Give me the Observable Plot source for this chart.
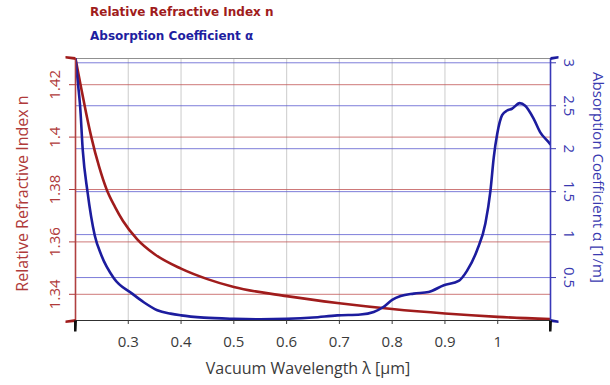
<!DOCTYPE html>
<html><head><meta charset="utf-8">
<script src="https://cdn.jsdelivr.net/npm/d3@7"></script>
<script src="https://cdn.jsdelivr.net/npm/@observablehq/plot@0.6"></script>
<style>
body{margin:0;background:#fff;}
#legend{padding-left:90px;height:48px;font-family:"DejaVu Sans",sans-serif;font-weight:bold;font-size:12px;}
#legend div{height:24px;line-height:24px;}
</style></head><body>
<div id="legend"><div style="color:#a01c1c">Relative Refractive Index n</div><div style="color:#1e1ea0">Absorption Coefficient α</div></div>
<div id="chart"></div>
<script>
// Refractive index curve
const lambdaN = [0.200,0.210,0.220,0.230,0.245,0.259,0.275,0.290,0.317,0.350,0.400,0.450,0.500,0.600,0.700,0.800,0.900,1.000,1.100];
const nValues = [1.4300,1.4195,1.4093,1.4000,1.3885,1.3800,1.3733,1.3680,1.3610,1.3553,1.3498,1.3458,1.3428,1.3393,1.3366,1.3344,1.3327,1.3314,1.3305];
// Absorption coefficient curve
const lambdaA = [0.200,0.205,0.2087,0.2138,0.2227,0.2365,0.249,0.273,0.308,0.330,0.355,0.380,0.400,0.443,0.500,0.550,0.600,0.650,0.696,0.740,0.765,0.784,0.800,0.816,0.841,0.869,0.898,0.926,0.942,0.961,0.9766,0.9862,0.9925,0.999,1.0083,1.0178,1.027,1.0416,1.052,1.068,1.0806,1.0964,1.100];
const alphaValues = [3.05,2.74,2.50,1.98,1.50,0.99,0.76,0.49,0.31,0.21,0.12,0.08,0.06,0.034,0.02,0.015,0.02,0.035,0.06,0.07,0.10,0.16,0.24,0.285,0.313,0.332,0.41,0.46,0.58,0.82,1.13,1.51,1.90,2.17,2.39,2.445,2.465,2.53,2.50,2.35,2.19,2.076,2.05];
const xTicks = [0.3,0.4,0.5,0.6,0.7,0.8,0.9,1.0];
const nTicks = [1.34,1.36,1.38,1.40,1.42];
const aTicks = [0.5,1,1.5,2,2.5,3];
const xDomain = [0.2,1.1];
const nDomain = [1.33,1.43];
const aDomain = [0,3.05];

const toN = a => nDomain[0] + (a - aDomain[0]) / (aDomain[1] - aDomain[0]) * (nDomain[1] - nDomain[0]);
const toA = n => aDomain[0] + (n - nDomain[0]) / (nDomain[1] - nDomain[0]) * (aDomain[1] - aDomain[0]);

const nData = lambdaN.map((l, i) => ({l, v: nValues[i]}));
const aData = lambdaA.map((l, i) => ({l, v: toN(alphaValues[i])}));

const RED = "#a01c1c", BLUE = "#1c1c9e";
const fmt = d3.format("~g");

function capSym(pts){ return {draw(ctx){ ctx.moveTo(pts[0][0],pts[0][1]); for(let i=1;i<pts.length;i++) ctx.lineTo(pts[i][0],pts[i][1]); ctx.closePath(); }}; }
const capLeft = capSym([[0,-1.5],[0,1.5],[-10,0],[-10,-2.5]]);
const capLeftBottom = capSym([[0,-1.5],[0,1.5],[-10,2.5],[-10,0]]);
const capRight = capSym([[0,-1.5],[0,1.5],[8,0],[8,-2.5]]);
const capRightBottom = capSym([[0,-1.5],[0,1.5],[8,2.5],[8,0]]);
const capDown = capSym([[-1.5,0],[1.5,0],[1,11],[-1.5,11]]);

const plot = Plot.plot({
  width: 610, height: 337,
  marginTop: 10, marginBottom: 65, marginLeft: 75, marginRight: 60,
  style: {fontFamily: "'Open Sans', sans-serif", fontSize: "15px", background: "#fff", overflow: "visible"},
  x: {domain: xDomain},
  y: {domain: nDomain},
  marks: [
    Plot.ruleX(xTicks, {stroke: "#d4d4d4", strokeWidth: 1.2}),
    Plot.ruleY(nTicks, {stroke: "#c25858", strokeOpacity: 0.8}),
    Plot.ruleY(aTicks.map(toN), {stroke: "#5c5cd0", strokeOpacity: 0.8}),
    Plot.ruleY([nDomain[1]], {stroke: "#909090"}),
    Plot.ruleY([nDomain[0]], {stroke: "#303030"}),
    Plot.line(nData, {x: "l", y: "v", stroke: RED, strokeWidth: 2.6, curve: "monotone-x", clip: true}),
    Plot.line(aData, {x: "l", y: "v", stroke: BLUE, strokeWidth: 2.6, curve: "monotone-x", clip: true}),
    Plot.ruleX([xDomain[0]], {stroke: "#b04040", strokeWidth: 1.6}),
    Plot.ruleX([xDomain[1]], {stroke: "#3838b8", strokeWidth: 1.6}),
    Plot.axisX({ticks: xTicks, tickSize: 4, tickPadding: 12, tickFormat: fmt, color: "#3a3a3a", label: null}),
    Plot.axisY({anchor: "left", ticks: nTicks, tickSize: 6, tickPadding: 10, tickRotate: -90, textAnchor: "middle", lineAnchor: "bottom", tickFormat: fmt, color: "#b03a3a", label: null}),
    Plot.axisY({anchor: "right", ticks: aTicks.map(toN), tickSize: 5, tickPadding: 8, tickRotate: 90, textAnchor: "middle", lineAnchor: "bottom", tickFormat: d => fmt(Math.round(toA(d) * 100) / 100), color: "#3a3ab0", label: null}),
    Plot.dot([[xDomain[0], nDomain[1]]], {x: d => d[0], y: d => d[1], symbol: capLeft, fill: RED, stroke: "none"}),
    Plot.dot([[xDomain[0], nDomain[0]]], {x: d => d[0], y: d => d[1], symbol: capLeftBottom, fill: RED, stroke: "none"}),
    Plot.dot([[xDomain[1], nDomain[1]]], {x: d => d[0], y: d => d[1], symbol: capRight, fill: BLUE, stroke: "none"}),
    Plot.dot([[xDomain[1], nDomain[0]]], {x: d => d[0], y: d => d[1], symbol: capRightBottom, fill: BLUE, stroke: "none"}),
    Plot.dot([[xDomain[0], nDomain[0]], [xDomain[1], nDomain[0]]], {x: d => d[0], y: d => d[1], symbol: capDown, fill: "#111", stroke: "none"}),
    Plot.text(["Relative Refractive Index n"], {frameAnchor: "left", textAnchor: "middle", dx: -53, dy: 4, rotate: -90, fill: "#b03a3a", fontSize: 16}),
    Plot.text(["Absorption Coefficient α [1/m]"], {frameAnchor: "right", textAnchor: "middle", dx: 47, dy: -12, rotate: 90, fill: "#3a3ab0", fontSize: 15}),
    Plot.text(["Vacuum Wavelength λ [µm]"], {frameAnchor: "bottom", textAnchor: "middle", dx: -5, dy: 53, fill: "#3a3a3a", fontSize: 16})
  ]
});
document.getElementById("chart").appendChild(plot);
</script>
</body></html>
